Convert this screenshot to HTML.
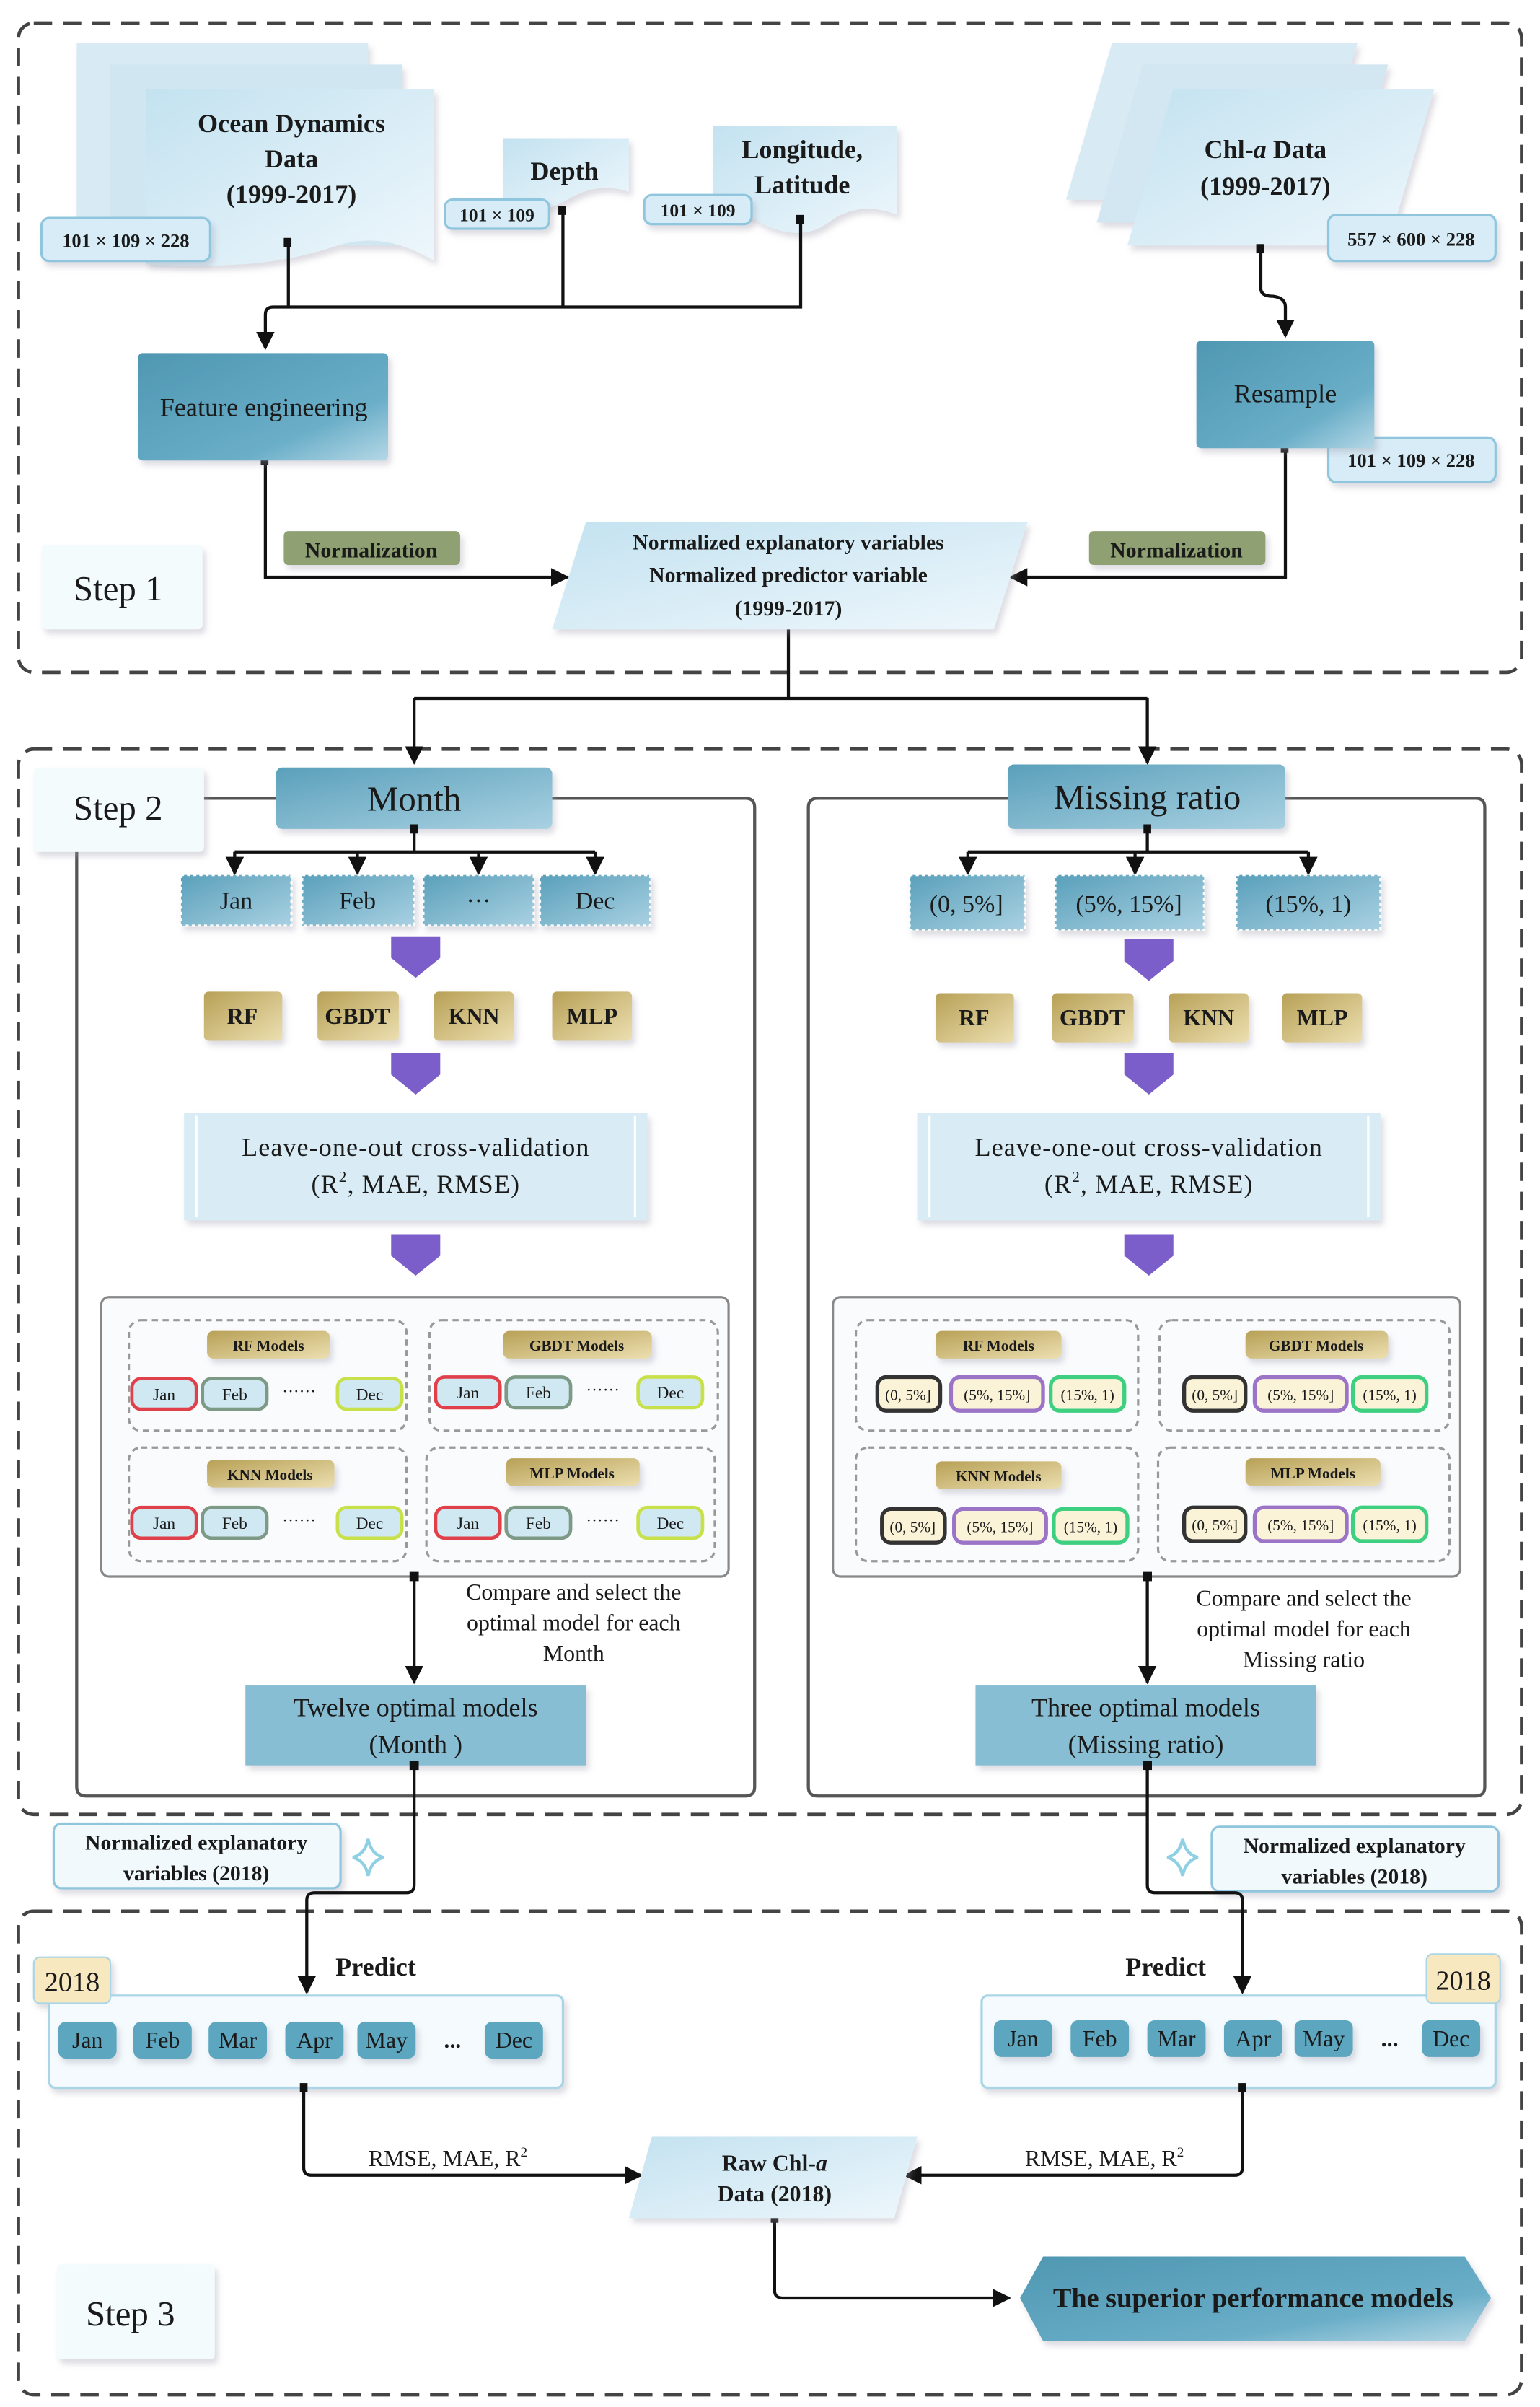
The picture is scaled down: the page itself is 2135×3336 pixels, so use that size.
<!DOCTYPE html>
<html><head><meta charset="utf-8"><style>
html,body{margin:0;padding:0;background:#fff}
svg{display:block}
text{font-family:"Liberation Serif",serif;fill:#1a1a1a}
.b{font-weight:bold}
</style></head><body>
<svg width="2135" height="3336" viewBox="0 0 1004 1568" preserveAspectRatio="none" xmlns="http://www.w3.org/2000/svg">
<defs>
<linearGradient id="lb" x1="0" y1="0" x2="1" y2="1"><stop offset="0" stop-color="#c3e2f0"/><stop offset="1" stop-color="#eef7fc"/></linearGradient>
<linearGradient id="dt" x1="0" y1="0" x2="1" y2="1"><stop offset="0" stop-color="#4f97b2"/><stop offset="0.7" stop-color="#6aaec8"/><stop offset="1" stop-color="#b5d8e6"/></linearGradient>
<linearGradient id="gd" x1="0" y1="0" x2="1" y2="1"><stop offset="0" stop-color="#b8a157"/><stop offset="1" stop-color="#ecdfb0"/></linearGradient>
<linearGradient id="mt" x1="0" y1="0" x2="1" y2="1"><stop offset="0" stop-color="#5aa0bb"/><stop offset="1" stop-color="#a9d1e2"/></linearGradient>
<marker id="ar" viewBox="0 0 10 10" refX="9" refY="5" markerWidth="6" markerHeight="6" orient="auto"><path d="M0,0L10,5L0,10z" fill="#111"/></marker>
<filter id="sh" x="-10%" y="-10%" width="130%" height="140%"><feDropShadow dx="2" dy="3" stdDeviation="2" flood-color="#99a" flood-opacity="0.35"/></filter>
</defs>

<!-- Dashed frames -->
<rect x="12" y="15" width="980" height="423" rx="10" fill="none" stroke="#444" stroke-width="2.2" stroke-dasharray="12,7"/>
<rect x="12" y="488" width="980" height="694" rx="10" fill="none" stroke="#444" stroke-width="2.2" stroke-dasharray="12,7"/>
<rect x="12" y="1245" width="980" height="315" rx="10" fill="none" stroke="#444" stroke-width="2.2" stroke-dasharray="12,7"/>

<!-- STEP 1 -->
<g filter="url(#sh)">
<path d="M50,28H240V150H50Z" fill="#d8ebf4"/>
<path d="M72,42H262V160H72Z" fill="#d0e6f1"/>
<path d="M95,58H283V170Q250,150 220,160T160,172T95,172Z" fill="url(#lb)"/>
<path d="M328,90H410V125Q390,118 370,130T328,130Z" fill="url(#lb)"/>
<path d="M465,82H585V140Q560,130 540,145T490,142L465,138Z" fill="url(#lb)"/>
<path d="M725,28H885L855,130H695Z" fill="#d8ebf4"/>
<path d="M745,42H905L875,145H715Z" fill="#d2e7f2"/>
<path d="M765,58H935L905,160H735Z" fill="url(#lb)"/>
</g>
<text x="190" y="86" font-size="17" text-anchor="middle" class="b">Ocean Dynamics</text>
<text x="190" y="109" font-size="17" text-anchor="middle" class="b">Data</text>
<text x="190" y="132" font-size="17" text-anchor="middle" class="b">(1999-2017)</text>
<text x="368" y="117" font-size="17" text-anchor="middle" class="b">Depth</text>
<text x="523" y="103" font-size="17" text-anchor="middle" class="b">Longitude,</text>
<text x="523" y="126" font-size="17" text-anchor="middle" class="b">Latitude</text>
<text x="825" y="103" font-size="17" text-anchor="middle" class="b">Chl-<tspan font-style="italic">a</tspan> Data</text>
<text x="825" y="127" font-size="17" text-anchor="middle" class="b">(1999-2017)</text>

<g filter="url(#sh)" fill="#d7ecf6" stroke="#8fc6dd" stroke-width="1.5">
<rect x="27" y="142" width="110" height="28" rx="5"/>
<rect x="290" y="130" width="68" height="19" rx="5"/>
<rect x="420" y="127" width="70" height="19" rx="5"/>
<rect x="866" y="140" width="109" height="30" rx="5"/>
<rect x="866" y="285" width="109" height="29" rx="5"/>
</g>
<text x="82" y="161" font-size="12.5" text-anchor="middle" class="b">101 × 109 × 228</text>
<text x="324" y="144" font-size="12" text-anchor="middle" class="b">101 × 109</text>
<text x="455" y="141" font-size="12" text-anchor="middle" class="b">101 × 109</text>
<text x="920" y="160" font-size="12.5" text-anchor="middle" class="b">557 × 600 × 228</text>
<text x="920" y="304" font-size="12.5" text-anchor="middle" class="b">101 × 109 × 228</text>

<g fill="none" stroke="#111" stroke-width="2">
<path d="M188,158V200M367,137V200M522,143V200H178Q173,200 173,205V227" marker-end="url(#ar)"/>
<path d="M822,162V188Q822,193 830,193Q838,194 838,200V219" marker-end="url(#ar)"/>
<path d="M173,300V376H370" marker-end="url(#ar)"/>
<path d="M838,292V376H659" marker-end="url(#ar)"/>
<path d="M514,410V455M270,455H748" />
</g>
<path d="M270,455V497" stroke="#111" stroke-width="2" marker-end="url(#ar)"/>
<path d="M748,455V497" stroke="#111" stroke-width="2" marker-end="url(#ar)"/>
<g fill="#111"><rect x="185" y="155" width="5" height="6"/><rect x="364" y="134" width="5" height="6"/><rect x="519" y="140" width="5" height="6"/><rect x="819" y="159" width="5" height="6"/><rect x="170" y="297" width="5" height="6"/><rect x="835" y="289" width="5" height="6"/></g>

<g filter="url(#sh)">
<rect x="90" y="230" width="163" height="70" rx="3" fill="url(#dt)"/>
<rect x="780" y="222" width="116" height="70" rx="3" fill="url(#dt)"/>
<path d="M382,340H670L648,410H360Z" fill="url(#lb)"/>
<rect x="185" y="346" width="115" height="22" rx="3" fill="#8fa072"/>
<rect x="710" y="346" width="115" height="22" rx="3" fill="#8fa072"/>
<rect x="27" y="355" width="105" height="55" rx="3" fill="#f3fbfd"/>
</g>
<text x="172" y="271" font-size="17" text-anchor="middle">Feature engineering</text>
<text x="838" y="262" font-size="17" text-anchor="middle">Resample</text>
<text x="242" y="363" font-size="14" text-anchor="middle" class="b">Normalization</text>
<text x="767" y="363" font-size="14" text-anchor="middle" class="b">Normalization</text>
<text x="514" y="358" font-size="14" text-anchor="middle" class="b">Normalized explanatory variables</text>
<text x="514" y="379" font-size="14" text-anchor="middle" class="b">Normalized predictor variable</text>
<text x="514" y="401" font-size="14" text-anchor="middle" class="b">(1999-2017)</text>
<text x="77" y="391" font-size="23" text-anchor="middle">Step 1</text>

<!-- STEP 2 -->
<g fill="none" stroke="#555" stroke-width="2">
<path d="M133,520H180M360,520H486Q492,520 492,526V1164Q492,1170 486,1170H56Q50,1170 50,1164V555"/>
<path d="M657,520H533Q527,520 527,526V1164Q527,1170 533,1170H962Q968,1170 968,1164V526Q968,520 962,520H838"/>
</g>
<g filter="url(#sh)">
<rect x="22" y="500" width="111" height="55" rx="3" fill="#f3fbfd"/>
<rect x="180" y="500" width="180" height="40" rx="4" fill="url(#mt)"/>
<rect x="657" y="498" width="181" height="42" rx="4" fill="url(#mt)"/>
</g>
<text x="77" y="534" font-size="23" text-anchor="middle">Step 2</text>
<text x="270" y="528" font-size="23" text-anchor="middle">Month</text>
<text x="748" y="527" font-size="23" text-anchor="middle">Missing ratio</text>

<g fill="none" stroke="#111" stroke-width="2">
<path d="M270,540V555M153,555H388M748,540V555M631,555H853"/>
<path d="M153,555V569" marker-end="url(#ar)"/><path d="M233,555V569" marker-end="url(#ar)"/><path d="M312,555V569" marker-end="url(#ar)"/><path d="M388,555V569" marker-end="url(#ar)"/>
<path d="M631,555V569" marker-end="url(#ar)"/><path d="M740,555V569" marker-end="url(#ar)"/><path d="M853,555V569" marker-end="url(#ar)"/>
</g>

<g filter="url(#sh)" fill="url(#mt)" stroke="#fff" stroke-width="1.5" stroke-dasharray="2,2">
<rect x="118" y="570" width="72" height="33"/><rect x="197" y="570" width="73" height="33"/><rect x="276" y="570" width="72" height="33"/><rect x="352" y="570" width="72" height="33"/>
<rect x="593" y="570" width="75" height="36"/><rect x="688" y="570" width="97" height="36"/><rect x="806" y="570" width="94" height="36"/>
</g>
<g font-size="16" text-anchor="middle">
<text x="154" y="592">Jan</text><text x="233" y="592">Feb</text><text x="312" y="592">···</text><text x="388" y="592">Dec</text>
<text x="630" y="594">(0, 5%]</text><text x="736" y="594">(5%, 15%]</text><text x="853" y="594">(15%, 1)</text>
</g>

<g fill="#7b5ec9">
<path d="M255,610H287V624L271,637L255,624Z"/><path d="M255,686H287V700L271,713L255,700Z"/><path d="M255,804H287V818L271,831L255,818Z"/>
<path d="M733,612H765V626L749,639L733,626Z"/><path d="M733,686H765V700L749,713L733,700Z"/><path d="M733,804H765V818L749,831L733,818Z"/>
</g>

<g filter="url(#sh)" fill="url(#gd)">
<rect x="133" y="646" width="51" height="32" rx="3"/><rect x="207" y="646" width="53" height="32" rx="3"/><rect x="283" y="646" width="52" height="32" rx="3"/><rect x="360" y="646" width="52" height="32" rx="3"/>
<rect x="610" y="647" width="51" height="32" rx="3"/><rect x="686" y="647" width="53" height="32" rx="3"/><rect x="762" y="647" width="52" height="32" rx="3"/><rect x="836" y="647" width="52" height="32" rx="3"/>
</g>
<g font-size="15" text-anchor="middle" class="b">
<text x="158" y="667">RF</text><text x="233" y="667">GBDT</text><text x="309" y="667">KNN</text><text x="386" y="667">MLP</text>
<text x="635" y="668">RF</text><text x="712" y="668">GBDT</text><text x="788" y="668">KNN</text><text x="862" y="668">MLP</text>
</g>

<g filter="url(#sh)">
<rect x="120" y="725" width="302" height="70" fill="#d9ecf5"/>
<rect x="598" y="725" width="302" height="70" fill="#d9ecf5"/>
</g>
<g stroke="#fff" stroke-width="1.5"><path d="M128,727V793M414,727V793M606,727V793M892,727V793"/></g>
<g font-size="17" text-anchor="middle" letter-spacing="0.5">
<text x="271" y="753">Leave-one-out cross-validation</text>
<text x="271" y="777">(R<tspan font-size="10" dy="-7">2</tspan><tspan dy="7">, MAE, RMSE)</tspan></text>
<text x="749" y="753">Leave-one-out cross-validation</text>
<text x="749" y="777">(R<tspan font-size="10" dy="-7">2</tspan><tspan dy="7">, MAE, RMSE)</tspan></text>
</g>

<!-- model boxes -->
<g fill="#fafbfd" stroke="#888" stroke-width="1.5">
<rect x="66" y="845" width="409" height="182" rx="5"/>
<rect x="543" y="845" width="409" height="182" rx="5"/>
</g>
<g fill="none" stroke="#999" stroke-width="1.5" stroke-dasharray="4,3">
<rect x="84" y="860" width="181" height="72" rx="8"/><rect x="280" y="860" width="188" height="72" rx="8"/>
<rect x="84" y="943" width="181" height="74" rx="8"/><rect x="278" y="943" width="188" height="74" rx="8"/>
<rect x="558" y="860" width="184" height="72" rx="8"/><rect x="756" y="860" width="189" height="72" rx="8"/>
<rect x="558" y="943" width="184" height="74" rx="8"/><rect x="755" y="943" width="190" height="74" rx="8"/>
</g>
<g fill="url(#gd)" filter="url(#sh)">
<rect x="135" y="867" width="80" height="18" rx="4"/><rect x="328" y="867" width="97" height="18" rx="4"/>
<rect x="135" y="951" width="83" height="18" rx="4"/><rect x="330" y="950" width="87" height="18" rx="4"/>
<rect x="610" y="867" width="82" height="18" rx="4"/><rect x="812" y="867" width="93" height="18" rx="4"/>
<rect x="610" y="952" width="82" height="18" rx="4"/><rect x="812" y="950" width="88" height="18" rx="4"/>
</g>
<g font-size="10" text-anchor="middle" class="b">
<text x="175" y="880">RF Models</text><text x="376" y="880">GBDT Models</text>
<text x="176" y="964">KNN Models</text><text x="373" y="963">MLP Models</text>
<text x="651" y="880">RF Models</text><text x="858" y="880">GBDT Models</text>
<text x="651" y="965">KNN Models</text><text x="856" y="963">MLP Models</text>
</g>
<g fill="#cfe8f1" stroke-width="2.2">
<rect x="86" y="898" width="42" height="20" rx="6" stroke="#e0404a"/><rect x="132" y="898" width="42" height="20" rx="6" stroke="#7c9a86"/><rect x="220" y="898" width="42" height="20" rx="6" stroke="#c8e04a"/>
<rect x="284" y="897" width="42" height="20" rx="6" stroke="#e0404a"/><rect x="330" y="897" width="42" height="20" rx="6" stroke="#7c9a86"/><rect x="416" y="897" width="42" height="20" rx="6" stroke="#c8e04a"/>
<rect x="86" y="982" width="42" height="20" rx="6" stroke="#e0404a"/><rect x="132" y="982" width="42" height="20" rx="6" stroke="#7c9a86"/><rect x="220" y="982" width="42" height="20" rx="6" stroke="#c8e04a"/>
<rect x="284" y="982" width="42" height="20" rx="6" stroke="#e0404a"/><rect x="330" y="982" width="42" height="20" rx="6" stroke="#7c9a86"/><rect x="416" y="982" width="42" height="20" rx="6" stroke="#c8e04a"/>
</g>
<g font-size="11" text-anchor="middle">
<text x="107" y="912">Jan</text><text x="153" y="912">Feb</text><text x="195" y="910">······</text><text x="241" y="912">Dec</text>
<text x="305" y="911">Jan</text><text x="351" y="911">Feb</text><text x="393" y="909">······</text><text x="437" y="911">Dec</text>
<text x="107" y="996">Jan</text><text x="153" y="996">Feb</text><text x="195" y="994">······</text><text x="241" y="996">Dec</text>
<text x="305" y="996">Jan</text><text x="351" y="996">Feb</text><text x="393" y="994">······</text><text x="437" y="996">Dec</text>
</g>
<g fill="#fbf3d8" stroke-width="2.5">
<rect x="572" y="897" width="41" height="22" rx="6" stroke="#333"/><rect x="620" y="897" width="60" height="22" rx="6" stroke="#9b74c8"/><rect x="685" y="897" width="48" height="22" rx="6" stroke="#3fcf80"/>
<rect x="772" y="897" width="40" height="22" rx="6" stroke="#333"/><rect x="818" y="897" width="60" height="22" rx="6" stroke="#9b74c8"/><rect x="882" y="897" width="48" height="22" rx="6" stroke="#3fcf80"/>
<rect x="575" y="983" width="41" height="22" rx="6" stroke="#333"/><rect x="622" y="983" width="60" height="22" rx="6" stroke="#9b74c8"/><rect x="687" y="983" width="48" height="22" rx="6" stroke="#3fcf80"/>
<rect x="772" y="982" width="40" height="22" rx="6" stroke="#333"/><rect x="818" y="982" width="60" height="22" rx="6" stroke="#9b74c8"/><rect x="882" y="982" width="48" height="22" rx="6" stroke="#3fcf80"/>
</g>
<g font-size="10" text-anchor="middle">
<text x="592" y="912">(0, 5%]</text><text x="650" y="912">(5%, 15%]</text><text x="709" y="912">(15%, 1)</text>
<text x="792" y="912">(0, 5%]</text><text x="848" y="912">(5%, 15%]</text><text x="906" y="912">(15%, 1)</text>
<text x="595" y="998">(0, 5%]</text><text x="652" y="998">(5%, 15%]</text><text x="711" y="998">(15%, 1)</text>
<text x="792" y="997">(0, 5%]</text><text x="848" y="997">(5%, 15%]</text><text x="906" y="997">(15%, 1)</text>
</g>

<g stroke="#111" stroke-width="2" fill="none">
<path d="M270,1027V1096" marker-end="url(#ar)"/>
<path d="M748,1027V1096" marker-end="url(#ar)"/>
</g>
<g fill="#111"><rect x="267" y="1024" width="6" height="6"/><rect x="745" y="1024" width="6" height="6"/><rect x="267.5" y="537" width="5" height="6"/><rect x="745.5" y="537" width="5" height="6"/></g>
<g font-size="15" text-anchor="middle">
<text x="374" y="1042">Compare and select the</text><text x="374" y="1062">optimal model for each</text><text x="374" y="1082">Month</text>
<text x="850" y="1046">Compare and select the</text><text x="850" y="1066">optimal model for each</text><text x="850" y="1086">Missing ratio</text>
</g>
<g filter="url(#sh)">
<rect x="160" y="1098" width="222" height="52" fill="#88bed3"/>
<rect x="636" y="1098" width="222" height="52" fill="#88bed3"/>
</g>
<g font-size="17" text-anchor="middle">
<text x="271" y="1118">Twelve optimal models</text><text x="271" y="1142">(Month )</text>
<text x="747" y="1118">Three optimal models</text><text x="747" y="1142">(Missing ratio)</text>
</g>

<!-- between -->
<g filter="url(#sh)" fill="#f1f9fc" stroke="#8fc6dd" stroke-width="1.5">
<rect x="35" y="1188" width="187" height="42" rx="5"/>
<rect x="790" y="1190" width="187" height="42" rx="5"/>
</g>
<g font-size="14" text-anchor="middle" class="b">
<text x="128" y="1205">Normalized explanatory</text><text x="128" y="1225">variables (2018)</text>
<text x="883" y="1207">Normalized explanatory</text><text x="883" y="1227">variables (2018)</text>
</g>
<g fill="none" stroke="#8fd0e4" stroke-width="2">
<path d="M240,1198Q242,1208 250,1210Q242,1212 240,1222Q238,1212 230,1210Q238,1208 240,1198Z"/>
<path d="M771,1198Q773,1208 781,1210Q773,1212 771,1222Q769,1212 761,1210Q769,1208 771,1198Z"/>
</g>
<g stroke="#111" stroke-width="2" fill="none">
<path d="M270,1150V1228Q270,1233 265,1233H205Q200,1233 200,1238V1298" marker-end="url(#ar)"/>
<path d="M748,1150V1228Q748,1233 753,1233H805Q810,1233 810,1238V1298" marker-end="url(#ar)"/>
</g>
<g fill="#111"><rect x="267" y="1147" width="6" height="6"/><rect x="745" y="1147" width="6" height="6"/></g>

<!-- STEP 3 -->
<g filter="url(#sh)">
<rect x="32" y="1300" width="335" height="60" rx="4" fill="#f4fafd" stroke="#a9d5e6" stroke-width="1.5"/>
<rect x="640" y="1300" width="335" height="60" rx="4" fill="#f4fafd" stroke="#a9d5e6" stroke-width="1.5"/>
<rect x="22" y="1275" width="50" height="30" rx="4" fill="#f7e8c0" stroke="#a9d5e6"/>
<rect x="930" y="1273" width="48" height="32" rx="4" fill="#f7e8c0" stroke="#a9d5e6"/>
</g>
<text x="47" y="1297" font-size="18" text-anchor="middle">2018</text>
<text x="954" y="1296" font-size="18" text-anchor="middle">2018</text>
<text x="245" y="1287" font-size="17" text-anchor="middle" class="b">Predict</text>
<text x="760" y="1287" font-size="17" text-anchor="middle" class="b">Predict</text>
<g fill="#5ba6c0" filter="url(#sh)">
<rect x="38" y="1317" width="38" height="24" rx="5"/><rect x="87" y="1317" width="38" height="24" rx="5"/><rect x="136" y="1317" width="38" height="24" rx="5"/><rect x="186" y="1317" width="38" height="24" rx="5"/><rect x="233" y="1317" width="38" height="24" rx="5"/><rect x="316" y="1317" width="38" height="24" rx="5"/>
<rect x="648" y="1316" width="38" height="24" rx="5"/><rect x="698" y="1316" width="38" height="24" rx="5"/><rect x="748" y="1316" width="38" height="24" rx="5"/><rect x="798" y="1316" width="38" height="24" rx="5"/><rect x="844" y="1316" width="38" height="24" rx="5"/><rect x="927" y="1316" width="38" height="24" rx="5"/>
</g>
<g font-size="15" text-anchor="middle">
<text x="57" y="1334">Jan</text><text x="106" y="1334">Feb</text><text x="155" y="1334">Mar</text><text x="205" y="1334">Apr</text><text x="252" y="1334">May</text><text x="295" y="1334" class="b">...</text><text x="335" y="1334">Dec</text>
<text x="667" y="1333">Jan</text><text x="717" y="1333">Feb</text><text x="767" y="1333">Mar</text><text x="817" y="1333">Apr</text><text x="863" y="1333">May</text><text x="906" y="1333" class="b">...</text><text x="946" y="1333">Dec</text>
</g>
<g stroke="#111" stroke-width="2" fill="none">
<path d="M198,1360V1412Q198,1417 203,1417H418" marker-end="url(#ar)"/>
<path d="M810,1360V1412Q810,1417 805,1417H590" marker-end="url(#ar)"/>
<path d="M505,1445V1492Q505,1497 510,1497H658" marker-end="url(#ar)"/>
</g>
<g fill="#111"><rect x="195.5" y="1357" width="5" height="6"/><rect x="807.5" y="1357" width="5" height="6"/><rect x="502.5" y="1442" width="5" height="6"/></g>
<text x="292" y="1411" font-size="15" text-anchor="middle">RMSE, MAE, R<tspan font-size="9" dy="-6">2</tspan></text>
<text x="720" y="1411" font-size="15" text-anchor="middle">RMSE, MAE, R<tspan font-size="9" dy="-6">2</tspan></text>
<g filter="url(#sh)">
<path d="M425,1392H598L583,1445H410Z" fill="url(#lb)"/>
<path d="M680,1470H955L972,1497L955,1525H680L665,1497Z" fill="url(#dt)"/>
<rect x="37" y="1475" width="103" height="62" rx="3" fill="#f3fbfd"/>
</g>
<text x="505" y="1414" font-size="15" text-anchor="middle" class="b">Raw Chl-<tspan font-style="italic">a</tspan></text>
<text x="505" y="1434" font-size="15" text-anchor="middle" class="b">Data (2018)</text>
<text x="817" y="1503" font-size="18" text-anchor="middle" class="b">The superior performance models</text>
<text x="85" y="1515" font-size="23" text-anchor="middle">Step 3</text>
</svg>
</body></html>
